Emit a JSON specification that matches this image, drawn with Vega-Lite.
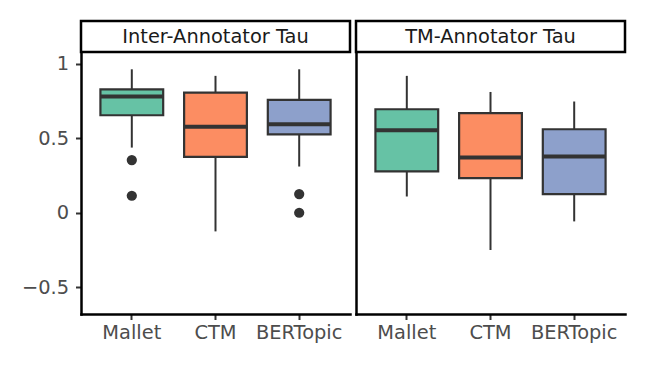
{
  "$schema": "https://vega.github.io/schema/vega-lite/v6.json",
  "padding": {"left": 21, "top": 19, "right": 19, "bottom": 10},
  "background": "white",
  "datasets": {
    "boxes": [
      {"panel": "Inter-Annotator Tau", "model": "Mallet", "lower": 0.437, "q1": 0.654, "median": 0.779, "q3": 0.828, "upper": 0.962},
      {"panel": "Inter-Annotator Tau", "model": "CTM", "lower": -0.125, "q1": 0.375, "median": 0.576, "q3": 0.806, "upper": 0.918},
      {"panel": "Inter-Annotator Tau", "model": "BERTopic", "lower": 0.31, "q1": 0.525, "median": 0.594, "q3": 0.757, "upper": 0.962},
      {"panel": "TM-Annotator Tau", "model": "Mallet", "lower": 0.109, "q1": 0.277, "median": 0.554, "q3": 0.694, "upper": 0.918},
      {"panel": "TM-Annotator Tau", "model": "CTM", "lower": -0.25, "q1": 0.232, "median": 0.37, "q3": 0.668, "upper": 0.81},
      {"panel": "TM-Annotator Tau", "model": "BERTopic", "lower": -0.058, "q1": 0.125, "median": 0.377, "q3": 0.56, "upper": 0.746}
    ],
    "outliers": [
      {"panel": "Inter-Annotator Tau", "model": "Mallet", "value": 0.353},
      {"panel": "Inter-Annotator Tau", "model": "Mallet", "value": 0.114},
      {"panel": "Inter-Annotator Tau", "model": "BERTopic", "value": 0.125},
      {"panel": "Inter-Annotator Tau", "model": "BERTopic", "value": 0.0}
    ]
  },
  "config": {
    "font": "DejaVu Sans",
    "view": {"stroke": null},
    "axis": {
      "domainColor": "black", "domainWidth": 2.5, "domainCap": "square",
      "tickColor": "#333333", "tickWidth": 2, "tickSize": 5.5,
      "labelFont": "DejaVu Sans", "labelFontSize": 19.4, "labelColor": "#4d4d4d",
      "grid": false, "title": null
    }
  },
  "spacing": 2,
  "hconcat": [
    {
      "bounds": "flush",
      "spacing": 0,
      "vconcat": [
        {
          "data": {"name": "boxes"},
          "transform": [
            {"filter": "datum.panel === 'Inter-Annotator Tau'"},
            {"aggregate": [{"op": "count", "as": "n"}], "groupby": ["panel"]}
          ],
          "width": 269, "height": 31,
          "view": {"stroke": "black", "strokeWidth": 2.5, "fill": "white"},
          "mark": {"type": "text", "fontSize": 19.4, "font": "DejaVu Sans", "color": "#1a1a1a", "align": "center", "baseline": "middle"},
          "encoding": {"text": {"field": "panel"}}
        },
        {
          "width": 269, "height": 262,
          "layer": [
            {
              "data": {"name": "boxes"},
              "transform": [{"filter": "datum.panel === 'Inter-Annotator Tau'"}],
              "mark": {"type": "rule", "color": "#333333", "strokeWidth": 2},
              "encoding": {
                "x": {"field": "model", "type": "nominal", "sort": ["Mallet", "CTM", "BERTopic"], "scale": {"paddingInner": 0.25, "paddingOuter": 0.232}, "axis": {"labelAngle": 0, "labelPadding": 4}},
                "y": {"field": "lower", "type": "quantitative", "scale": {"domain": [-0.679, 1.078], "nice": false, "zero": false}, "axis": {"values": [-0.5, 0, 0.5, 1], "format": "~g", "labelPadding": 7}},
                "y2": {"field": "upper"}
              }
            },
            {
              "data": {"name": "boxes"},
              "transform": [{"filter": "datum.panel === 'Inter-Annotator Tau'"}],
              "mark": {"type": "bar", "stroke": "#333333", "strokeWidth": 2.2},
              "encoding": {
                "x": {"field": "model", "type": "nominal", "sort": ["Mallet", "CTM", "BERTopic"]},
                "y": {"field": "q1", "type": "quantitative"},
                "y2": {"field": "q3"},
                "color": {"field": "model", "type": "nominal", "scale": {"domain": ["Mallet", "CTM", "BERTopic"], "range": ["#66c2a5", "#fc8d62", "#8da0cb"]}, "legend": null}
              }
            },
            {
              "data": {"name": "boxes"},
              "transform": [{"filter": "datum.panel === 'Inter-Annotator Tau'"}],
              "mark": {"type": "tick", "color": "#333333", "thickness": 4, "size": 62, "opacity": 1},
              "encoding": {
                "x": {"field": "model", "type": "nominal", "sort": ["Mallet", "CTM", "BERTopic"]},
                "y": {"field": "median", "type": "quantitative"}
              }
            },
            {
              "data": {"name": "outliers"},
              "transform": [{"filter": "datum.panel === 'Inter-Annotator Tau'"}],
              "mark": {"type": "point", "filled": true, "color": "#333333", "size": 105, "opacity": 1},
              "encoding": {
                "x": {"field": "model", "type": "nominal", "sort": ["Mallet", "CTM", "BERTopic"]},
                "y": {"field": "value", "type": "quantitative"}
              }
            }
          ]
        }
      ]
    },
    {
      "bounds": "flush",
      "spacing": 0,
      "vconcat": [
        {
          "data": {"name": "boxes"},
          "transform": [
            {"filter": "datum.panel === 'TM-Annotator Tau'"},
            {"aggregate": [{"op": "count", "as": "n"}], "groupby": ["panel"]}
          ],
          "width": 269, "height": 31,
          "view": {"stroke": "black", "strokeWidth": 2.5, "fill": "white"},
          "mark": {"type": "text", "fontSize": 19.4, "font": "DejaVu Sans", "color": "#1a1a1a", "align": "center", "baseline": "middle"},
          "encoding": {"text": {"field": "panel"}}
        },
        {
          "width": 269, "height": 262,
          "layer": [
            {
              "data": {"name": "boxes"},
              "transform": [{"filter": "datum.panel === 'TM-Annotator Tau'"}],
              "mark": {"type": "rule", "color": "#333333", "strokeWidth": 2},
              "encoding": {
                "x": {"field": "model", "type": "nominal", "sort": ["Mallet", "CTM", "BERTopic"], "scale": {"paddingInner": 0.25, "paddingOuter": 0.232}, "axis": {"labelAngle": 0, "labelPadding": 4}},
                "y": {"field": "lower", "type": "quantitative", "scale": {"domain": [-0.679, 1.078], "nice": false, "zero": false}, "axis": {"values": [-0.5, 0, 0.5, 1], "labels": false, "ticks": false}},
                "y2": {"field": "upper"}
              }
            },
            {
              "data": {"name": "boxes"},
              "transform": [{"filter": "datum.panel === 'TM-Annotator Tau'"}],
              "mark": {"type": "bar", "stroke": "#333333", "strokeWidth": 2.2},
              "encoding": {
                "x": {"field": "model", "type": "nominal", "sort": ["Mallet", "CTM", "BERTopic"]},
                "y": {"field": "q1", "type": "quantitative"},
                "y2": {"field": "q3"},
                "color": {"field": "model", "type": "nominal", "scale": {"domain": ["Mallet", "CTM", "BERTopic"], "range": ["#66c2a5", "#fc8d62", "#8da0cb"]}, "legend": null}
              }
            },
            {
              "data": {"name": "boxes"},
              "transform": [{"filter": "datum.panel === 'TM-Annotator Tau'"}],
              "mark": {"type": "tick", "color": "#333333", "thickness": 4, "size": 62, "opacity": 1},
              "encoding": {
                "x": {"field": "model", "type": "nominal", "sort": ["Mallet", "CTM", "BERTopic"]},
                "y": {"field": "median", "type": "quantitative"}
              }
            }
          ]
        }
      ]
    }
  ]
}
